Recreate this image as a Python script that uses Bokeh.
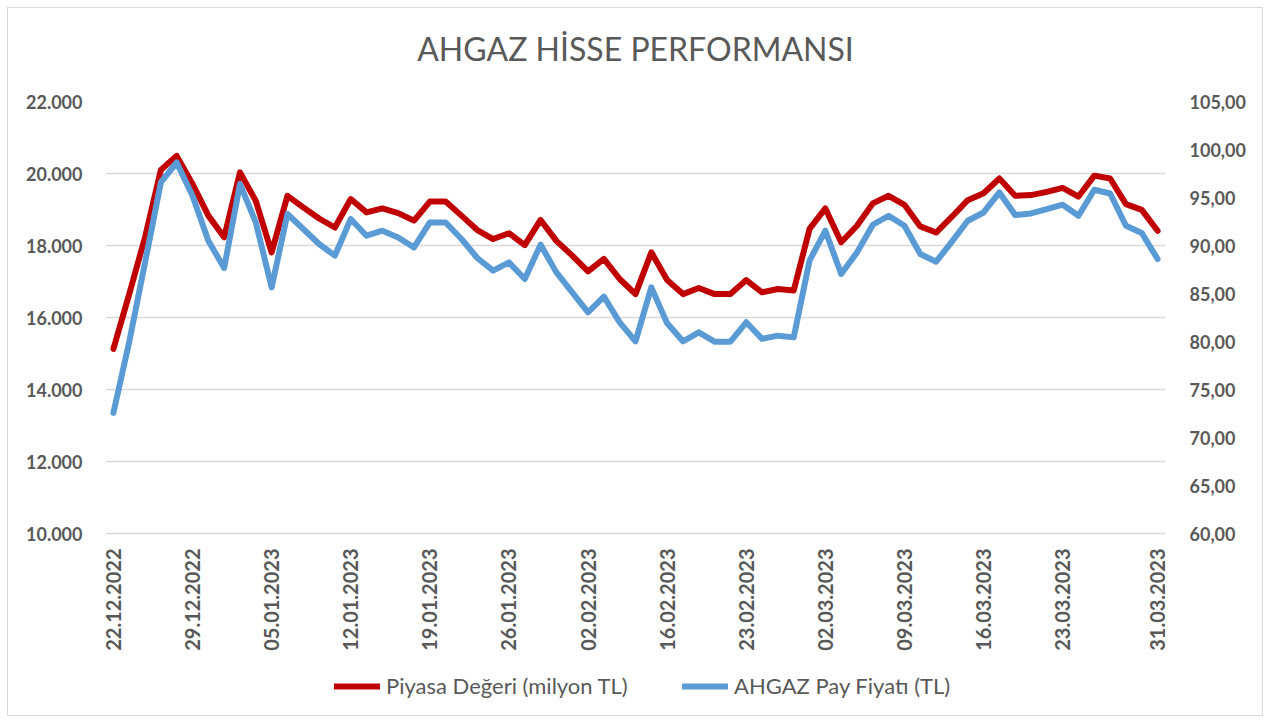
import math
from bokeh.plotting import figure
from bokeh.models import (Range1d, LinearAxis, FixedTicker, Legend, LegendItem,
                          ColumnDataSource, Title)
from bokeh.core.properties import value
from bokeh.embed import file_html
from bokeh.resources import INLINE

# ---- data -------------------------------------------------------------
dates = [
    "22.12.2022", "23.12.2022", "26.12.2022", "27.12.2022", "28.12.2022",
    "29.12.2022", "30.12.2022",
    "02.01.2023", "03.01.2023", "04.01.2023", "05.01.2023", "06.01.2023",
    "09.01.2023", "10.01.2023", "11.01.2023", "12.01.2023", "13.01.2023",
    "16.01.2023", "17.01.2023", "18.01.2023", "19.01.2023", "20.01.2023",
    "23.01.2023", "24.01.2023", "25.01.2023", "26.01.2023", "27.01.2023",
    "30.01.2023", "31.01.2023",
    "01.02.2023", "02.02.2023", "03.02.2023", "06.02.2023", "07.02.2023",
    "15.02.2023", "16.02.2023", "17.02.2023",
    "20.02.2023", "21.02.2023", "22.02.2023", "23.02.2023", "24.02.2023",
    "27.02.2023", "28.02.2023",
    "01.03.2023", "02.03.2023", "03.03.2023",
    "06.03.2023", "07.03.2023", "08.03.2023", "09.03.2023", "10.03.2023",
    "13.03.2023", "14.03.2023", "15.03.2023", "16.03.2023", "17.03.2023",
    "20.03.2023", "21.03.2023", "22.03.2023", "23.03.2023", "24.03.2023",
    "27.03.2023", "28.03.2023", "29.03.2023", "30.03.2023", "31.03.2023",
]

label_dates = [
    "22.12.2022", "29.12.2022", "05.01.2023", "12.01.2023", "19.01.2023",
    "26.01.2023", "02.02.2023", "16.02.2023", "23.02.2023", "02.03.2023",
    "09.03.2023", "16.03.2023", "23.03.2023", "31.03.2023",
]

# Piyasa Değeri (milyon TL) - left axis
piyasa_degeri = [
    15130, 16650, 18230, 20100, 20490, 19710, 18830, 18230, 20030, 19240,
    17810, 19380, 19060, 18750, 18500, 19290, 18920, 19030, 18900, 18690,
    19220, 19220, 18830, 18430, 18180, 18340, 18010, 18710, 18130, 17720,
    17280, 17630, 17070, 16650, 17810, 17040, 16650, 16820, 16650, 16650,
    17040, 16700, 16790, 16750, 18460, 19030, 18090, 18550, 19170, 19380,
    19130, 18530, 18360, 18800, 19260, 19450, 19860, 19380, 19400, 19490,
    19600, 19360, 19940, 19860, 19150, 18990, 18410,
]

# AHGAZ Pay Fiyatı (TL) - right axis
pay_fiyati = [
    72.56, 79.96, 88.24, 96.57, 98.65, 95.18, 90.50, 87.66, 96.40, 92.40,
    85.64, 93.28, 91.72, 90.16, 88.94, 92.76, 91.02, 91.54, 90.84, 89.80,
    92.40, 92.40, 90.68, 88.70, 87.38, 88.24, 86.51, 90.08, 87.20, 85.12,
    83.03, 84.67, 82.00, 80.02, 85.64, 81.89, 80.02, 80.95, 79.98, 79.98,
    82.00, 80.27, 80.61, 80.43, 88.42, 91.54, 87.03, 89.28, 92.16, 93.10,
    92.06, 89.11, 88.31, 90.40, 92.58, 93.44, 95.53, 93.17, 93.34, 93.80,
    94.25, 93.10, 95.81, 95.42, 92.06, 91.30, 88.59,
]

left_ticks = [10000, 12000, 14000, 16000, 18000, 20000, 22000]
right_ticks = [60, 65, 70, 75, 80, 85, 90, 95, 100, 105]

title_text = "AHGAZ HİSSE PERFORMANSI"
name_piyasa = "Piyasa Değeri (milyon TL)"
name_fiyat = "AHGAZ Pay Fiyatı (TL)"

# ---- layout / styles --------------------------------------------------
FONT = "Lato"
GRAY_TXT = "#595959"
GRID = "#D9D9D9"
RED = "#C00000"
BLUE = "#5B9BD5"

PLOT_H = 432      # height of the gridded plotting area (px)
EXTRA_H = 182     # room below it for the date labels and the legend (px)
FRAME_W = 1060
LABEL_GAP = 15    # px between the bottom gridline and the date labels


def extend_down(lo, hi):
    """range start so that [lo, hi] fills PLOT_H px and EXTRA_H px lie below"""
    return lo - (hi - lo) * EXTRA_H / PLOT_H


idx = list(range(len(dates)))
src = ColumnDataSource(dict(x=idx, piyasa=piyasa_degeri, fiyat=pay_fiyati, date=dates))

p = figure(frame_width=FRAME_W, frame_height=PLOT_H + EXTRA_H,
           output_backend="svg", toolbar_location=None,
           x_axis_location=None,
           x_range=Range1d(-0.5, len(dates) - 0.5),
           y_range=Range1d(extend_down(left_ticks[0], left_ticks[-1]), left_ticks[-1]),
           min_border_left=97, min_border_right=97,
           min_border_top=93, min_border_bottom=0)
p.extra_y_ranges = {"fiyat": Range1d(extend_down(right_ticks[0], right_ticks[-1]),
                                     right_ticks[-1])}
p.outline_line_color = None
p.background_fill_color = "white"
p.border_fill_color = "white"
p.styles = {"margin-left": "7px", "margin-top": "7px",
            "border": "1px solid #D9D9D9"}

# spacer between the frame and the title (stacked nearest the frame)
p.add_layout(Title(text=" ", text_font_size="10px", standoff=16), "above")

# title
p.title.text = title_text
p.title.align = "center"
p.title.text_font = FONT
p.title.text_font_size = "32px"
p.title.text_font_style = "normal"
p.title.text_color = GRAY_TXT
p.title.standoff = 10

# left axis
ya = p.yaxis[0]
ya.ticker = FixedTicker(ticks=left_ticks, minor_ticks=[])
ya.major_label_overrides = {v: f"{v:,}".replace(",", ".") for v in left_ticks}
ya.axis_line_color = None
ya.major_tick_line_color = None
ya.minor_tick_line_color = None
ya.major_label_standoff = 17
ya.major_label_text_font = FONT
ya.major_label_text_font_style = "bold"
ya.major_label_text_font_size = "18px"
ya.major_label_text_color = GRAY_TXT

# right axis
ra = LinearAxis(y_range_name="fiyat")
ra.ticker = FixedTicker(ticks=right_ticks, minor_ticks=[])
ra.major_label_overrides = {v: f"{v:.2f}".replace(".", ",") for v in right_ticks}
ra.axis_line_color = None
ra.major_tick_line_color = None
ra.minor_tick_line_color = None
ra.major_label_standoff = 18
ra.major_label_text_font = FONT
ra.major_label_text_font_style = "bold"
ra.major_label_text_font_size = "18px"
ra.major_label_text_color = GRAY_TXT
p.add_layout(ra, "right")

# grid (only at the left-axis ticks; the lowest one doubles as the axis line)
for g in p.xgrid:
    g.visible = False
p.ygrid.ticker = FixedTicker(ticks=left_ticks, minor_ticks=[])
p.ygrid.grid_line_color = GRID
p.ygrid.grid_line_width = 1.5

# date labels under the bottom gridline (every 5th trading day + last day)
xt = [dates.index(d) for d in label_dates]
px_per_unit = (left_ticks[-1] - left_ticks[0]) / PLOT_H
lab_src = ColumnDataSource(dict(
    x=xt, y=[left_ticks[0] - LABEL_GAP * px_per_unit] * len(xt), text=label_dates))
p.text("x", "y", text="text", source=lab_src, angle=math.pi / 2,
       text_align="right", text_baseline="middle",
       text_font=value(FONT), text_font_style="bold", text_font_size="20px",
       text_color=GRAY_TXT)

# lines
r1 = p.line("x", "piyasa", source=src, line_color=RED, line_width=6,
            line_join="round", line_cap="round")
r2 = p.line("x", "fiyat", source=src, y_range_name="fiyat", line_color=BLUE,
            line_width=6, line_join="round", line_cap="round")


# legends (inside the lower part of the frame)
def make_legend(label, r, loc):
    lg = Legend(items=[LegendItem(label=label, renderers=[r])], location=loc,
                orientation="horizontal", glyph_width=46, glyph_height=20,
                label_standoff=6, padding=0, margin=0, spacing=0,
                border_line_color=None, background_fill_alpha=0,
                label_text_font=FONT, label_text_font_size="22px",
                label_text_color=GRAY_TXT)
    p.add_layout(lg, "center")
    return lg


make_legend(name_piyasa, r1, (229, 16))
make_legend(name_fiyat, r2, (577, 16))

open("out.html", "w").write(file_html(p, INLINE))
